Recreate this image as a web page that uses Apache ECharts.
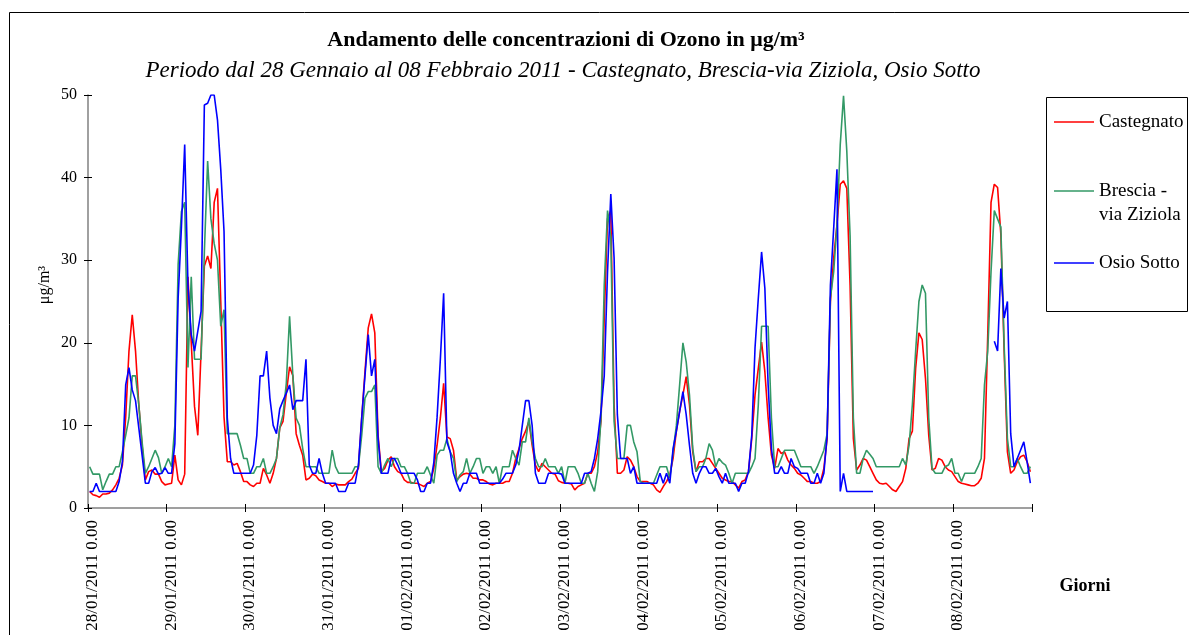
<!DOCTYPE html>
<html>
<head>
<meta charset="utf-8">
<script src="https://cdn.jsdelivr.net/npm/echarts@6/dist/echarts.min.js"></script>
<style>
html,body{margin:0;padding:0;background:#fff;}
#chart{width:1189px;height:635px;}
</style>
</head>
<body>
<div id="chart"></div>
<script>
// Day labels (one category per hour, 24 per day)
var days = ['28/01/2011','29/01/2011','30/01/2011','31/01/2011','01/02/2011','02/02/2011',
            '03/02/2011','04/02/2011','05/02/2011','06/02/2011','07/02/2011','08/02/2011'];
var hourLabels = ['0.00','1.00','2.00','3.00','4.00','5.00','6.00','7.00','8.00','9.00','10.00','11.00',
                  '12.00','13.00','14.00','15.00','16.00','17.00','18.00','19.00','20.00','21.00','22.00','23.00'];
var yTicks = [0, 10, 20, 30, 40, 50];

var seriesNames = ['Castegnato', 'Brescia - via Ziziola', 'Osio Sotto'];

var castegnato = [
2,1.6,1.5,1.3,1.7,1.7,1.8,2.2,2.8,3.6,
5.2,11,19,23.4,19,12.5,7.6,3.4,4.4,4.6,
4.1,4.1,3.2,2.8,2.9,3,6.4,3.4,2.8,4.1,
28,20,12.3,8.8,19,29.3,30.5,29,37,38.7,
25,11,5.6,5.6,5.2,5.4,4.4,3.2,3.2,2.8,
2.6,3,3,4.8,4,3,4.2,6,9.7,10.5,
13.9,17.1,16,9,7.6,6.4,3.4,3.6,4.1,3.9,
3.4,3.2,3,3,2.6,2.9,2.8,2.8,2.8,3.2,
3.5,4.2,4.8,10.9,16.5,21.8,23.5,21.2,8.8,4.4,
4.8,5.8,6.2,5,4.4,4.2,3.4,3.1,3.1,3,
3,2.8,2.6,3,3.2,4.8,7.6,10.9,15.1,8.6,
8.4,7,3.4,3.8,4.1,4.2,4.1,3.6,3.6,3.4,
3.4,3.2,2.9,2.8,3,3,3,3.2,3.2,4.2,
6,7.2,8.4,9.3,10.5,7.6,5.2,4.4,5.4,5,
4.6,4.2,4.1,3.3,3.1,3,3,2.9,2.2,2.6,
2.8,3,4.2,4.2,5,6.8,10.5,23,35,36,
12.5,4.2,4.2,4.6,6.2,5.8,5,3.8,3.2,3.2,
3.2,3,2.8,2.2,1.9,2.6,3.2,4,6,9.3,
11.7,13.7,15.9,12.5,6.8,4.4,5.6,5.6,6,6,
5.4,4.8,4.2,3.6,3.4,3.2,3.2,2.8,2.4,3.2,
3.4,4.4,8.4,13.7,16.9,20.1,16.5,10.9,6.4,4.8,
7.2,6.6,6.8,5.8,5.2,4.8,4.2,4,3.6,3.2,
3.2,3,3,3.2,4.8,8.4,25,30.3,34.3,39.2,
39.6,38.7,27,8.4,4.6,5.2,6,5.8,5,4.2,
3.4,3,2.9,3,2.6,2.2,2,2.6,3.2,4.8,
8.4,9.3,16.9,21.2,20.4,15.7,8.8,4.6,4.8,6,
5.8,5,4.6,4.4,3.8,3.2,3,2.9,2.8,2.7,
2.7,3,3.6,6,21,37,39.2,38.8,33.1,19,
6.8,4.2,4.6,5.6,6.2,6.4,5.6,4.4
];

var brescia = [
5,4.1,4.1,4.1,2.2,3.2,4.1,4.1,5,5,
6.8,8.8,10.9,16,16,12.5,8,4.2,5,6,
7,6.1,4.2,5,6,5,10,29.5,35.9,37,
17,28,18,18,18,31,42,35,32,30,
22,24,9,9,9,9,7.6,6,6,4.2,
4.2,5,5,6,4.2,4.2,5,6,9.7,11.3,
15.1,23.2,16,10.9,10,7.2,5,5,5,5,
4.2,4.2,4.2,4.2,7,5,4.2,4.2,4.2,4.2,
4.2,5,5,8.8,13.3,14.1,14.1,14.9,5,4.2,
5.2,6,5,6,6,5,5,4.2,3,3,
4.2,4.2,4.2,5,4,3,6.4,7,7,8.4,
6.8,6,3.2,4,4.4,6,4.2,5,6,6,
4.2,5,5,4.2,5,3,5,5,5,7,
6,5.2,8,8,10.9,8,6,5,5,6,
5,5,5,4.2,5,3,5,5,5,4.2,
3,3,4.2,3,2,4.4,10.9,27,36,32.8,
10.5,6,6,6,10,10,8,6.8,3.2,3,
3,3,3,4,5,5,5,3.6,6.8,10,
14.9,20,17.7,13.7,7.2,4.4,5,5,6,7.8,
7,5,6,5.5,5.2,4.2,3,4.2,4.2,4.2,
4.2,4.2,5,6,12.5,22,22,22,10.9,5,
5,6,7,7,7,7,6,5,5,5,
5,4.2,5,6,7,9,25.4,28.6,34.3,44,
49.9,43.2,33,10.9,4.2,4.2,6,7,6.5,6,
5,5,5,5,5,5,5,5,6,5.2,
7.6,12.5,19,25,27,26,10.9,4.8,4.2,4.2,
4.2,5,5.2,6,4.2,4.2,3.2,4.2,4.2,4.2,
4.2,5,6,14.9,19,28.6,36,35,34,19.8,
8.4,5,5,6,5,4.2,4.2,5
];

var osio = [
2,2,3,2,2,2,2,2,2,3.2,
5.6,14.9,17,14.3,13,9.7,6.4,3,3,4.4,
4.9,4.1,4.2,4.9,4.2,4.2,7.8,25.4,34,44,
27,21,19,21.4,23.8,48.8,49,50,50,47,
41,33.5,10.9,6,4.2,4.2,4.2,4.2,4.2,4.2,
5.2,8.8,16,16,19,13.3,10,9,12,13,
13.9,14.9,11.9,13,13,13,18,5.2,4.2,4.2,
6,4.2,3,3,3,3,2,2,2,3,
3,3,5.2,10.9,16,21,16,18,8.4,4.2,
4.2,4.2,6,6,5.2,4.2,4.2,4.2,4.2,4.2,
3.4,2,2,3,3,5.5,11,18,26,8,
6.8,4.2,3,2,3,3,4.2,4.2,4.2,3,
3,3,3,3,3,3,3.5,4.2,4.2,4.2,
5.2,7,10,13,13,10,4.2,3,3,3,
4.2,4.2,4.2,4.2,4.1,3,3,3,3,3,
3,4.2,4.2,4.4,6,8.4,11.7,16,28.6,38,
30.3,11.3,6,6,6,4.2,5,3,3,3,
3,3,3,3,4.2,3,4.2,3,7.2,9.3,
11.7,14.1,11.3,7.6,4.2,3,4.2,5,5,4.2,
4.2,4.8,3.8,3,4.2,3,3,3,2,3,
3,4.4,8.8,19.4,25.4,31,26.6,14.9,7.2,4.2,
4.2,5,4.2,4.2,6,5,4.8,4.2,4.2,4.2,
3,3,4.2,3,4.2,8.8,27,33.9,41,2,
4.2,2,2,2,2,2,2,2,2,2,
null,null,null,null,null,null,null,null,null,null,
null,null,null,null,null,null,null,null,null,null,
null,null,null,null,null,null,null,null,null,null,
null,null,null,null,null,null,
20.2,19,29,23,25,9,5,6,7,8,5.6,3
];

var categories = [];
days.forEach(function (d) { hourLabels.forEach(function (h) { categories.push(d + ' ' + h); }); });

var FONT = 'Liberation Serif, Times New Roman, serif';
var chart = echarts.init(document.getElementById('chart'), null, {renderer: 'canvas'});

function lineSeries(name, data, color) {
  return {
    name: name, type: 'line', data: data, xAxisIndex: 0, yAxisIndex: 0,
    symbol: 'none', showSymbol: false, connectNulls: false, animation: false,
    lineStyle: {color: color, width: 1.6}, itemStyle: {color: color}
  };
}

var legendCommon = {
  orient: 'vertical', icon: 'rect', itemWidth: 40, itemHeight: 1.6, padding: 0,
  selectedMode: false,
  textStyle: {fontFamily: FONT, fontSize: 19, color: '#000', lineHeight: 24}
};

chart.setOption({
  animation: false,
  backgroundColor: '#fff',
  grid: {left: 88, top: 95, right: 157, bottom: 127, containLabel: false},
  xAxis: [{
    type: 'category', data: categories, boundaryGap: true,
    axisLine: {show: true, lineStyle: {color: '#808080', width: 1.5}},
    axisTick: {show: true, interval: 23, length: 4, lineStyle: {color: '#000'}},
    axisLabel: {interval: 23, rotate: 90, margin: 12, fontFamily: FONT, fontSize: 17, color: '#000',
                verticalAlign: 'top', lineHeight: 6},
    splitLine: {show: false}
  }, {
    type: 'category', data: categories, boundaryGap: true, position: 'bottom',
    axisLine: {show: false},
    axisTick: {show: true, inside: true, interval: 23, length: 4, lineStyle: {color: '#000'}},
    axisLabel: {show: false}, splitLine: {show: false}
  }],
  yAxis: [{
    type: 'value', min: yTicks[0], max: yTicks[yTicks.length - 1], interval: 10,
    axisLine: {show: true, lineStyle: {color: '#808080', width: 1.5}},
    axisTick: {show: true, length: 4, lineStyle: {color: '#000'}},
    axisLabel: {margin: 11, fontFamily: FONT, fontSize: 16, color: '#000'},
    splitLine: {show: false}
  }, {
    type: 'value', min: yTicks[0], max: yTicks[yTicks.length - 1], interval: 10, position: 'left',
    axisLine: {show: false},
    axisTick: {show: true, inside: true, length: 4, lineStyle: {color: '#000'}},
    axisLabel: {show: false}, splitLine: {show: false}
  }],
  legend: [
    Object.assign({}, legendCommon, {data: [seriesNames[0]], left: 1054, top: 110}),
    Object.assign({}, legendCommon, {data: [seriesNames[1]], left: 1054, top: 155,
      formatter: function (n) { return '\nBrescia -\nvia Ziziola'; }}),
    Object.assign({}, legendCommon, {data: [seriesNames[2]], left: 1054, top: 251})
  ],
  graphic: [
    {type: 'rect', silent: true, z: -1,
     shape: {x: 9.5, y: 12.5, width: 1300, height: 1000},
     style: {fill: 'none', stroke: '#000', lineWidth: 1}},
    {type: 'rect', silent: true,
     shape: {x: 1046.5, y: 97.5, width: 141, height: 214},
     style: {fill: 'none', stroke: '#000', lineWidth: 1}},
    {type: 'text', x: 566, y: 40,
     style: {text: 'Andamento delle concentrazioni di Ozono in μg/m³', fontFamily: FONT, fontSize: 22,
             fontWeight: 'bold', fill: '#000', align: 'center', verticalAlign: 'middle'}},
    {type: 'text', x: 563, y: 71,
     style: {text: 'Periodo dal 28 Gennaio al 08 Febbraio 2011 - Castegnato, Brescia-via Ziziola, Osio Sotto',
             fontFamily: FONT, fontSize: 23, fontStyle: 'italic', fill: '#000', align: 'center', verticalAlign: 'middle'}},
    {type: 'text', x: 45, y: 285, rotation: Math.PI / 2,
     style: {text: 'μg/m³', fontFamily: FONT, fontSize: 16, fill: '#000', align: 'center', verticalAlign: 'middle'}},
    {type: 'text', x: 1085, y: 586,
     style: {text: 'Giorni', fontFamily: FONT, fontSize: 18, fontWeight: 'bold', fill: '#000', align: 'center', verticalAlign: 'middle'}}
  ],
  series: [
    lineSeries(seriesNames[0], castegnato, '#FF0000'),
    lineSeries(seriesNames[1], brescia, '#339966'),
    lineSeries(seriesNames[2], osio, '#0000FF')
  ]
});
</script>
</body>
</html>
